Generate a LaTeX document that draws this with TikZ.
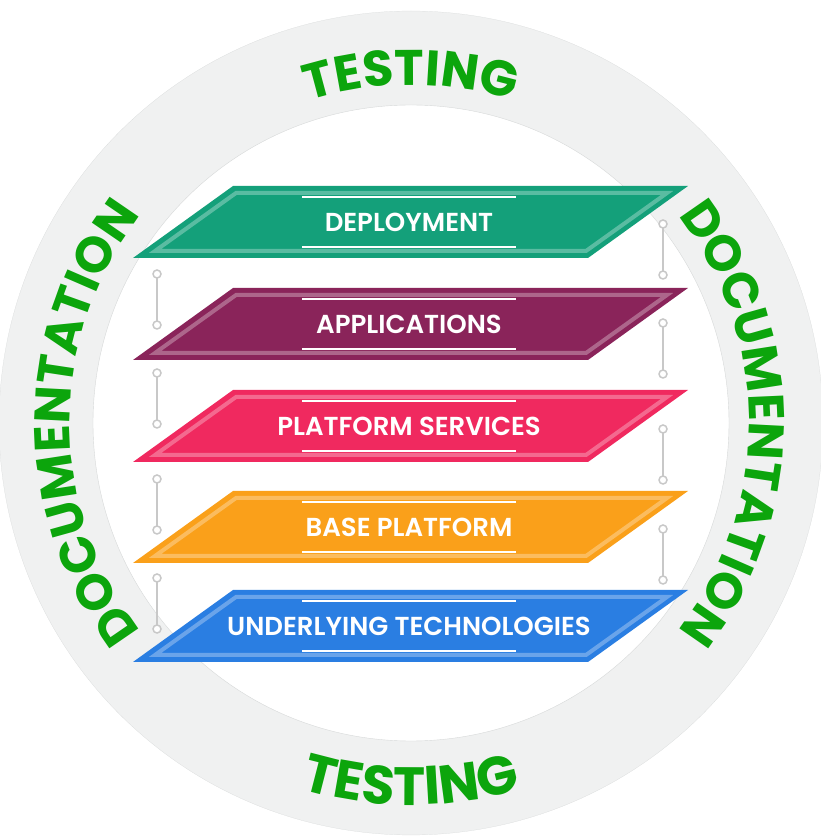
\documentclass[tikz,border=0pt]{standalone}
\usepackage{fontspec}
\setmainfont{Poppins}
\newfontfamily\labelfont{Poppins SemiBold}
\usetikzlibrary{decorations.text,positioning}
\definecolor{ringgrey}{RGB}{240, 241, 241}
\definecolor{ringedge}{RGB}{215, 217, 217}
\definecolor{ringgreen}{RGB}{12, 165, 12}
\definecolor{linkgrey}{RGB}{200, 200, 200}
\definecolor{deploycolor}{RGB}{20, 160, 122}
\definecolor{appcolor}{RGB}{138, 36, 90}
\definecolor{servicecolor}{RGB}{240, 41, 95}
\definecolor{basecolor}{RGB}{250, 160, 26}
\definecolor{techcolor}{RGB}{42, 126, 226}
\newcommand{\ringfont}{\fontsize{50}{50}\selectfont\bfseries}
\newcommand{\ringfontlow}{\fontsize{54}{54}\selectfont\bfseries}

\tikzset{
  layerband/.style={draw=white, draw opacity=0.3, line width=4pt, line join=miter},
  textline/.style={draw=white, line width=1.5pt},
  layerlabel/.style={text=white, font=\labelfont\fontsize{26}{26}\selectfont},
  connector/.style={draw=linkgrey, line width=1.5pt},
  dot/.style={fill=white, draw=linkgrey, line width=1.5pt}
}

\begin{document}
\begin{tikzpicture}[x=1pt,y=1pt]
  \useasboundingbox (0,0) rectangle (821,839);

  % Ring
  \coordinate (C) at (411,416);
  \fill[ringgrey, even odd rule] (C) circle[radius=412pt] (C) circle[radius=318pt];
  \draw[ringedge, thin] (C) circle[radius=318pt];
  \draw[ringedge, very thin] (C) circle[radius=412pt];

  % Ring labels
  \path[decorate, decoration={text along path, text align=center, text color=ringgreen,
    text={|\ringfont|TESTING}}] ([shift={(130:338pt)}]C) arc[start angle=130, end angle=50, radius=338pt];
  \path[decorate, decoration={text along path, text align=center, text color=ringgreen,
    text={|\ringfontlow|TESTING}}] ([shift={(200:382pt)}]C) arc[start angle=200, end angle=340, radius=382pt];
  \path[decorate, decoration={text along path, text align=center, text color=ringgreen,
    text={|\ringfont|DOCUMENTATION}}] ([shift={(250:341pt)}]C) arc[start angle=250, end angle=110, radius=341pt];
  \path[decorate, decoration={text along path, text align=center, text color=ringgreen,
    text={|\ringfont|DOCUMENTATION}}] ([shift={(70:338pt)}]C) arc[start angle=70, end angle=-70, radius=338pt];

  % Connectors, left side
  \coordinate (L1a) at (157,565); \coordinate (L1b) at (157,514);
  \coordinate (L2a) at (157,466); \coordinate (L2b) at (157,415);
  \coordinate (L3a) at (157,360); \coordinate (L3b) at (157,309);
  \coordinate (L4a) at (157,261); \coordinate (L4b) at (157,210);
  % Connectors, right side
  \coordinate (R1a) at (663,615); \coordinate (R1b) at (663,564);
  \coordinate (R2a) at (663,516); \coordinate (R2b) at (663,465);
  \coordinate (R3a) at (663,410); \coordinate (R3b) at (663,359);
  \coordinate (R4a) at (663,310); \coordinate (R4b) at (663,259);

  \draw[connector] (L1a) -- (L1b);
  \draw[connector] (L2a) -- (L2b);
  \draw[connector] (L3a) -- (L3b);
  \draw[connector] (L4a) -- (L4b);
  \draw[connector] (R1a) -- (R1b);
  \draw[connector] (R2a) -- (R2b);
  \draw[connector] (R3a) -- (R3b);
  \draw[connector] (R4a) -- (R4b);

  \filldraw[dot] (L1a) circle[radius=4pt] (L1b) circle[radius=4pt];
  \filldraw[dot] (L2a) circle[radius=4pt] (L2b) circle[radius=4pt];
  \filldraw[dot] (L3a) circle[radius=4pt] (L3b) circle[radius=4pt];
  \filldraw[dot] (L4a) circle[radius=4pt] (L4b) circle[radius=4pt];
  \filldraw[dot] (R1a) circle[radius=4pt] (R1b) circle[radius=4pt];
  \filldraw[dot] (R2a) circle[radius=4pt] (R2b) circle[radius=4pt];
  \filldraw[dot] (R3a) circle[radius=4pt] (R3b) circle[radius=4pt];
  \filldraw[dot] (R4a) circle[radius=4pt] (R4b) circle[radius=4pt];

  % Deployment layer
  \fill[deploycolor] (133,581) -- (233,653) -- (688,653) -- (588,581) -- cycle;
  \draw[layerband] (155,588) -- (236,646) -- (667,646) -- (586,588) -- cycle;
  \draw[textline] (302,642) -- (516,642);
  \draw[textline] (302,592) -- (516,592);
  \node[layerlabel] (deploy) at (409,617) {DEPLOYMENT};

  % Applications layer
  \fill[appcolor] (133,479) -- (233,551) -- (688,551) -- (588,479) -- cycle;
  \draw[layerband] (155,486) -- (236,544) -- (667,544) -- (586,486) -- cycle;
  \draw[textline] (302,540) -- (516,540);
  \draw[textline] (302,490) -- (516,490);
  \node[layerlabel] (apps) at (409,515) {APPLICATIONS};

  % Platform services layer
  \fill[servicecolor] (133,377) -- (233,449) -- (688,449) -- (588,377) -- cycle;
  \draw[layerband] (155,384) -- (236,442) -- (667,442) -- (586,384) -- cycle;
  \draw[textline] (302,438) -- (516,438);
  \draw[textline] (302,388) -- (516,388);
  \node[layerlabel] (services) at (409,413) {PLATFORM SERVICES};

  % Base platform layer
  \fill[basecolor] (133,276) -- (233,348) -- (688,348) -- (588,276) -- cycle;
  \draw[layerband] (155,283) -- (236,341) -- (667,341) -- (586,283) -- cycle;
  \draw[textline] (302,337) -- (516,337);
  \draw[textline] (302,287) -- (516,287);
  \node[layerlabel] (base) at (409,312) {BASE PLATFORM};

  % Underlying technologies layer
  \fill[techcolor] (133,177) -- (233,249) -- (688,249) -- (588,177) -- cycle;
  \draw[layerband] (155,184) -- (236,242) -- (667,242) -- (586,184) -- cycle;
  \draw[textline] (302,238) -- (516,238);
  \draw[textline] (302,188) -- (516,188);
  \node[layerlabel] (tech) at (409,213) {UNDERLYING TECHNOLOGIES};
\end{tikzpicture}
\end{document}
